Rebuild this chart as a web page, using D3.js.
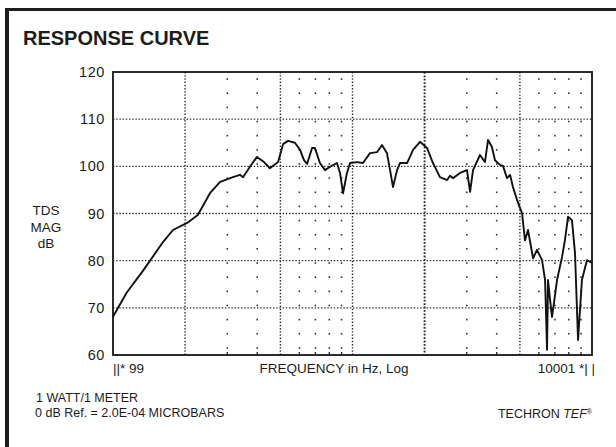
<!DOCTYPE html>
<html><head><meta charset="utf-8">
<script src="https://cdn.jsdelivr.net/npm/d3@7"></script>
<style>
body{margin:0;background:#fff}
svg{display:block}
text{font-family:"Liberation Sans",Arial,sans-serif;fill:#1c1c1c}
</style>
</head><body>
<svg id="c" width="616" height="447"></svg>
<script>
// ---- data ----
const freqs = [100,114,134,162,178,204,226,254,280,317,
  339,349,373,399,427,452,489,513,538,575,
  604,627,646,678,697,731,768,805,861,887,
  913,948,977,1045,1106,1183,1265,1328,1393,1435,
  1476,1535,1578,1690,1790,1914,2047,2168,2318,2483,
  2553,2630,2812,3006,3097,3186,3407,3574,3681,3821,
  3935,4129,4249,4416,4548,4677,4864,5003,5104,5250,
  5405,5675,5892,6186,6369,6491,6552,6683,6808,6872,
  7145,7499,7712,7943,8248,8493,8744,9077,9527,10000];
const mags = [68.1,73.2,78.0,84.0,86.5,88.0,89.7,94.3,96.7,97.7,
  98.2,97.7,99.9,102.0,100.9,99.6,100.9,104.7,105.4,105.0,
  103.5,101.3,100.5,103.9,103.9,100.7,99.2,99.9,100.7,98.6,
  94.3,98.6,100.7,100.9,100.7,102.8,103.0,104.5,102.8,99.2,
  95.6,99.2,100.7,100.7,103.5,105.2,103.9,100.7,97.7,97.1,
  98.0,97.5,98.6,99.2,94.6,99.2,102.4,100.9,105.6,104.1,
  101.3,100.3,100.1,97.5,98.2,95.6,92.9,91.2,90.1,84.3,
  86.5,80.5,82.3,80.1,75.9,61.1,75.9,71.7,68.1,69.5,
  75.9,80.8,84.4,89.3,88.6,81.6,63.2,75.9,80.1,79.5];
const yTicks = [60,70,80,90,100,110,120];
const majorFreqs = [200,500,1000,2000,5000];
const minorFreqs = [300,400,600,700,800,900,3000,4000,6000,7000,8000,9000];
const dotLevels = [118.5,115.5,112.5,109.5,106.5,103.5,100.5,97.5,94.5,91.5,88.5,85.5,82.5,79.5,76.5,73.5,70.5,67.5,64.5,61.5];
const title = "RESPONSE CURVE";
const yLabel = ["TDS","MAG","dB"];
const xLeft = "||* 99", xMid = "FREQUENCY in Hz, Log", xRight = "10001 *| |";
const note1 = "1 WATT/1 METER", note2 = "0 dB Ref. = 2.0E-04 MICROBARS";

// ---- layout ----
const L = 113, R = 592, T = 72, B = 355;
const svg = d3.select("#c");
const x = d3.scaleLog().domain([100, 10000]).range([L, R]);
const y = d3.scaleLinear().domain([60, 120]).range([B, T]);

// outer frame (thick left/top)
svg.append("line").attr("x1",7).attr("x2",7).attr("y1",8).attr("y2",447)
  .attr("stroke","#1e1e1e").attr("stroke-width",4);
svg.append("line").attr("x1",5).attr("x2",616).attr("y1",9.5).attr("y2",9.5)
  .attr("stroke","#1e1e1e").attr("stroke-width",3);

svg.append("text").attr("x",23).attr("y",45).attr("font-size",20)
  .attr("font-weight","bold").text(title);

// horizontal dotted gridlines
svg.append("g").selectAll("line").data(yTicks.filter(d => d > 60 && d < 120)).join("line")
  .attr("x1",L).attr("x2",R).attr("y1",d=>y(d)).attr("y2",d=>y(d))
  .attr("stroke","#2a2a2a").attr("stroke-width",1.4).attr("stroke-dasharray","1.4,1.8");

// vertical dotted gridlines
svg.append("g").selectAll("line").data(majorFreqs).join("line")
  .attr("x1",d=>x(d)).attr("x2",d=>x(d)).attr("y1",T).attr("y2",B)
  .attr("stroke","#2a2a2a").attr("stroke-width",d=>d===2000?1.9:1.4)
  .attr("stroke-dasharray",d=>d===2000?"1.8,1.6":"1.4,1.8");

// dot columns at minor frequencies
const dots = [];
minorFreqs.forEach(f => dotLevels.forEach(l => dots.push([f,l])));
svg.append("g").selectAll("rect").data(dots).join("rect")
  .attr("x",d=>x(d[0])-0.8).attr("y",d=>y(d[1])-0.8)
  .attr("width",1.6).attr("height",1.6).attr("fill","#333");

// small ticks on the bottom axis at minor frequencies
svg.append("g").selectAll("line").data(minorFreqs).join("line")
  .attr("x1",d=>x(d)).attr("x2",d=>x(d)).attr("y1",B-3).attr("y2",B)
  .attr("stroke","#222").attr("stroke-width",1.3);

// plot frame
svg.append("rect").attr("x",L).attr("y",T).attr("width",R-L).attr("height",B-T)
  .attr("fill","none").attr("stroke","#151515").attr("stroke-width",1.8);

// y axis labels
svg.append("g").selectAll("text").data(yTicks).join("text")
  .attr("x",105).attr("y",d=>y(d)+5).attr("text-anchor","end")
  .attr("font-size",14.5).attr("letter-spacing",0.6).text(d=>d);

svg.append("g").selectAll("text").data(yLabel).join("text")
  .attr("x",46).attr("y",(d,i)=>215+i*16.5).attr("text-anchor","middle")
  .attr("font-size",13.5).text(d=>d);

// x axis labels
svg.append("text").attr("x",113).attr("y",373).attr("font-size",13.5).attr("xml:space","preserve").text(xLeft);
svg.append("text").attr("x",334).attr("y",373).attr("text-anchor","middle").attr("font-size",13.5).text(xMid);
svg.append("text").attr("x",595).attr("y",373).attr("text-anchor","end").attr("font-size",13.5).text(xRight);

// curve
const line = d3.line().x((d,i)=>x(freqs[i])).y(d=>y(d));
svg.append("path").datum(mags).attr("d",line)
  .attr("fill","none").attr("stroke","#111").attr("stroke-width",1.9)
  .attr("stroke-linejoin","round");

// footer notes
svg.append("text").attr("x",36).attr("y",402).attr("font-size",12.5).text(note1);
svg.append("text").attr("x",35).attr("y",417).attr("font-size",12.5).text(note2);
const tech = svg.append("text").attr("x",592).attr("y",418).attr("text-anchor","end").attr("font-size",12.5);
tech.append("tspan").text("TECHRON ");
tech.append("tspan").attr("font-style","italic").text("TEF");
tech.append("tspan").attr("font-size",7).attr("dy",-4).text("®");
</script>
</body></html>
